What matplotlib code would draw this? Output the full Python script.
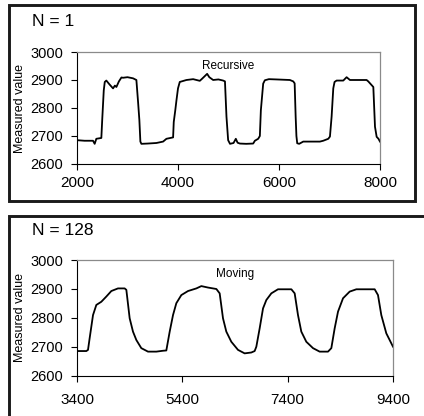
import matplotlib
matplotlib.use("Agg")
import matplotlib.pyplot as plt
from matplotlib.patches import Rectangle

# =====================
# Data
# =====================
rec_x = [2000, 2150, 2317, 2350, 2383, 2450, 2482, 2500, 2530, 2550, 2581, 2640,
         2714, 2750, 2780, 2830, 2880, 2912, 3000, 3110, 3176, 3210, 3235, 3255,
         3275, 3400, 3573, 3705, 3771, 3903, 3916, 3945, 3970, 4000, 4035, 4167,
         4300, 4366, 4432, 4480, 4577, 4620, 4696, 4800, 4894, 4930, 4960, 4993,
         5030, 5100, 5145, 5180, 5225, 5350, 5489, 5522, 5588, 5621, 5641, 5687,
         5720, 5800, 5950, 6216, 6282, 6310, 6330, 6345, 6361, 6400, 6480, 6650,
         6810, 6876, 6976, 7009, 7042, 7075, 7100, 7141, 7273, 7339, 7405, 7600,
         7735, 7768, 7868, 7901, 7934, 7970, 8000]
rec_y = [2685, 2683, 2683, 2672, 2690, 2692, 2693, 2760, 2863, 2893, 2898, 2885,
         2870, 2880, 2875, 2895, 2909, 2908, 2910, 2906, 2900, 2820, 2757, 2680,
         2672, 2673, 2675, 2680, 2690, 2695, 2750, 2790, 2828, 2870, 2893, 2900,
         2903, 2900, 2897, 2905, 2922, 2910, 2900, 2902, 2898, 2895, 2769, 2685,
         2672, 2675, 2690, 2676, 2673, 2672, 2673, 2683, 2690, 2700, 2792, 2887,
         2899, 2903, 2902, 2900, 2895, 2888, 2769, 2700, 2674, 2672, 2680, 2680,
         2680, 2683, 2690, 2698, 2769, 2870, 2893, 2898, 2898, 2910, 2900, 2900,
         2900, 2895, 2875, 2733, 2697, 2690, 2680]

mov_x = [3400, 3577, 3609, 3640, 3704, 3767, 3862, 3957, 4052, 4178, 4305, 4337,
         4400, 4463, 4527, 4621, 4748, 4906, 5033, 5096, 5160, 5223, 5286, 5381,
         5508, 5666, 5761, 5887, 6046, 6109, 6172, 6235, 6330, 6457, 6583, 6710,
         6773, 6805, 6868, 6932, 6995, 7090, 7216, 7470, 7533, 7596, 7659, 7754,
         7881, 8007, 8166, 8229, 8292, 8356, 8451, 8577, 8704, 9052, 9115, 9178,
         9273, 9400]
mov_y = [2686, 2686, 2690, 2730, 2810, 2845, 2856, 2874, 2893, 2902, 2902, 2897,
         2799, 2753, 2724, 2696, 2684, 2684, 2687, 2688, 2753, 2810, 2851, 2879,
         2893, 2902, 2910, 2905, 2900, 2885, 2799, 2753, 2718, 2690, 2678, 2681,
         2686, 2701, 2764, 2833, 2862, 2885, 2899, 2899, 2885, 2810, 2753, 2718,
         2696, 2684, 2684, 2696, 2764, 2822, 2868, 2891, 2899, 2899, 2879, 2810,
         2747, 2701]

y_ticks = [2600, 2700, 2800, 2900, 3000]
rec_xticks = [2000, 4000, 6000, 8000]
mov_xticks = [3400, 5400, 7400, 9400]

# =====================
# Styling
# =====================
plt.rcParams.update({
    'font.family': 'Liberation Sans',
    'font.size': 10,
})

fig = plt.figure(figsize=(4.24, 4.16), dpi=100)

# outer frames around each panel
fig.patches.append(Rectangle((0.0212, 0.5168), 0.9575, 0.4712, transform=fig.transFigure,
                             fill=False, edgecolor='#1a1a1a', linewidth=2.1))
fig.patches.append(Rectangle((0.0212, -0.05), 1.05, 0.5308, transform=fig.transFigure,
                             fill=False, edgecolor='#1a1a1a', linewidth=2.1))

ax1 = fig.add_axes([0.1816, 0.6058, 0.7146, 0.2692])
ax2 = fig.add_axes([0.1816, 0.0962, 0.7453, 0.2788])

panels = [
    (ax1, rec_x, rec_y, rec_xticks, 'Recursive', 'N = 1', 0.9495, 0.740, 5),
    (ax2, mov_x, mov_y, mov_xticks, 'Moving', 'N = 128', 0.447, 0.2356, 8),
]

for ax, xs, ys, xt, title, ntext, ny, ly, xpad in panels:
    ax.plot(xs, ys, color='black', linewidth=1.3)
    ax.set_xlim(xt[0], xt[-1])
    ax.set_ylim(2600, 3000)
    ax.set_xticks(xt)
    ax.set_yticks(y_ticks)
    ax.tick_params(axis='y', direction='out', length=4, width=0.8, pad=6, labelsize=10.5)
    ax.tick_params(axis='x', direction='out', length=4, width=0.8, pad=xpad, labelsize=11)
    for s in ['top', 'right']:
        ax.spines[s].set_color('#8a8a8a')
        ax.spines[s].set_linewidth(0.9)
    for s in ['left', 'bottom']:
        ax.spines[s].set_color('black')
        ax.spines[s].set_linewidth(0.8)
    ax.text(0.5, 0.93, title, transform=ax.transAxes, ha='center', va='top', fontsize=8.5)
    fig.text(0.0755, ny, ntext, ha='left', va='center', fontsize=12.5)
    fig.text(0.047, ly, 'Measured value', rotation=90, ha='center', va='center', fontsize=9)

plt.savefig('out.png', dpi=100)
